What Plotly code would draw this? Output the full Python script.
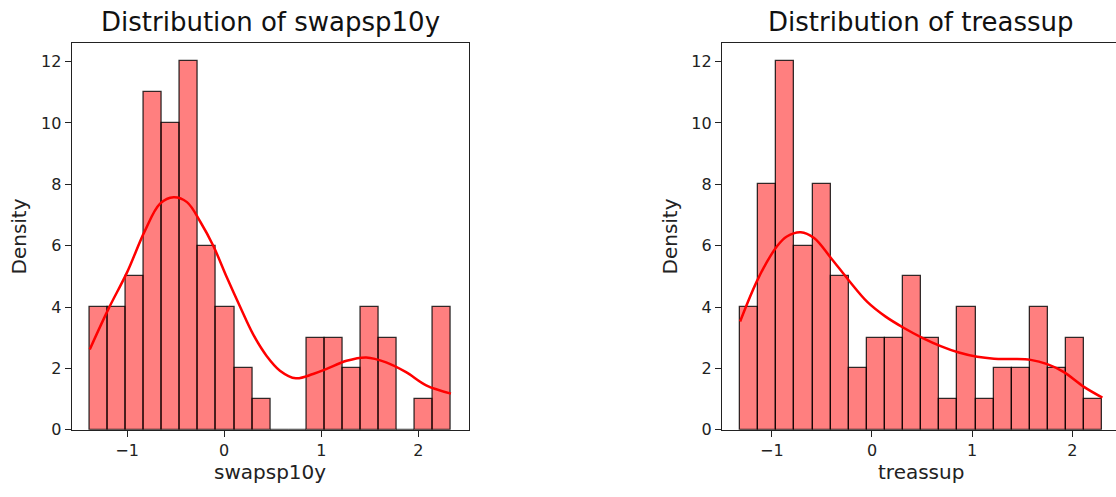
import numpy as np
import plotly.graph_objects as go

# ---- data ----
swap_lo, swap_hi = -1.384, 2.335
swap_counts = [4, 4, 5, 11, 10, 12, 6, 4, 2, 1, 0, 0, 3, 3, 2, 4, 3, 0, 1, 4]
swap_kde_x = [-1.384, -1.19, -1.0, -0.82, -0.66, -0.52, -0.383, -0.246, -0.11, 0.027,
              0.164, 0.30, 0.437, 0.574, 0.738, 0.915, 1.05, 1.26, 1.463, 1.668,
              1.873, 2.08, 2.335]
swap_kde_y = [2.62, 3.95, 5.13, 6.46, 7.37, 7.58, 7.42, 6.78, 5.98, 4.97,
              4.01, 3.10, 2.41, 1.93, 1.68, 1.82, 1.98, 2.25, 2.36, 2.20,
              1.88, 1.45, 1.18]

treas_lo, treas_hi = -1.316, 2.299
treas_counts = [4, 8, 12, 6, 8, 5, 2, 3, 3, 5, 3, 1, 4, 1, 2, 2, 4, 2, 3, 1]
treas_kde_x = [-1.316, -1.13, -0.948, -0.85, -0.711, -0.578, -0.412, -0.229, -0.047,
               0.136, 0.319, 0.502, 0.685, 0.867, 1.05, 1.217, 1.40, 1.583, 1.749,
               1.915, 2.115, 2.299]
treas_kde_y = [3.53, 4.97, 5.98, 6.30, 6.44, 6.25, 5.61, 4.86, 4.17,
               3.69, 3.32, 3.00, 2.73, 2.52, 2.38, 2.32, 2.31, 2.28, 2.14,
               1.88, 1.40, 1.05]

titles = ["Distribution of swapsp10y", "Distribution of treassup"]
xlabels = ["swapsp10y", "treassup"]
ylabel = "Density"
x_ticks = [-1, 0, 1, 2]
y_ticks = [0, 2, 4, 6, 8, 10, 12]

# ---- figure ----
W, H = 1116, 497
FONT = "DejaVu Sans"
FILL = "rgba(255,0,0,0.5)"
EDGE = "rgba(0,0,0,0.8)"

fig = go.Figure()

panels = [
    dict(lo=swap_lo, hi=swap_hi, counts=swap_counts, kx=swap_kde_x, ky=swap_kde_y,
         xa="x", ya="y"),
    dict(lo=treas_lo, hi=treas_hi, counts=treas_counts, kx=treas_kde_x, ky=treas_kde_y,
         xa="x2", ya="y2"),
]

for p in panels:
    n = len(p["counts"])
    edges = np.linspace(p["lo"], p["hi"], n + 1)
    centers = (edges[:-1] + edges[1:]) / 2
    width = edges[1] - edges[0]
    fig.add_trace(go.Bar(
        x=centers, y=p["counts"], width=width,
        marker=dict(color=FILL, line=dict(color=EDGE, width=1.3)),
        xaxis=p["xa"], yaxis=p["ya"], showlegend=False, hoverinfo="skip"))
    fig.add_trace(go.Scatter(
        x=p["kx"], y=p["ky"], mode="lines", line=dict(color="red", width=2.5, shape="spline",
                                                        smoothing=1.0),
        xaxis=p["xa"], yaxis=p["ya"], showlegend=False, hoverinfo="skip"))

ydom = [1 - 438.7 / H, 1 - 44 / H]
dom1 = [71.7 / W, 469 / W]
dom2 = [722 / W, 1.0]

tickfont = dict(family=FONT, size=16, color="#222")
axis_common = dict(showgrid=False, zeroline=False, showline=True, linecolor="#222",
                   linewidth=1.3, ticks="outside", ticklen=6, tickwidth=1.3,
                   tickcolor="#222", tickfont=tickfont)

# range computed from the bin span with matplotlib-like 5% margins
def xr(lo, hi):
    m = (hi - lo) * 0.05
    return [lo - m, hi + m]

r1 = xr(swap_lo, swap_hi)
r2 = xr(treas_lo, treas_hi)
r2[1] = r2[0] + (r2[1] - r2[0]) * (1116 - 722) / (1120.5 - 722)

fig.update_layout(
    width=W, height=H, margin=dict(l=0, r=0, t=0, b=0), autosize=False,
    paper_bgcolor="white", plot_bgcolor="white", bargap=0,
    font=dict(family=FONT, color="#222"),
    xaxis=dict(domain=dom1, range=r1, tickvals=x_ticks, mirror=True, anchor="y", **axis_common),
    yaxis=dict(domain=ydom, range=[0, 12.6], tickvals=y_ticks, mirror=True, anchor="x", **axis_common),
    xaxis2=dict(domain=dom2, range=r2, tickvals=x_ticks, mirror=True, anchor="y2", **axis_common),
    yaxis2=dict(domain=ydom, range=[0, 12.6], tickvals=y_ticks, mirror=False, anchor="x2", **axis_common),
)

ann = []
for dom, t, xl, ylx in [(dom1, titles[0], xlabels[0], 19), (dom2, titles[1], xlabels[1], 670)]:
    cx = (dom[0] + dom[1]) / 2 if dom is dom1 else (722 + 1120.5) / 2 / W
    ann.append(dict(text=t, x=cx, y=1 - 22 / H, xref="paper", yref="paper",
                    xanchor="center", yanchor="middle", showarrow=False,
                    font=dict(family=FONT, size=26, color="#111")))
    ann.append(dict(text=xl, x=cx, y=1 - 482 / H, xref="paper", yref="paper",
                    xanchor="center", yanchor="middle", showarrow=False,
                    font=dict(family=FONT, size=20, color="#222")))
    ann.append(dict(text=ylabel, x=ylx / W, y=(ydom[0] + ydom[1]) / 2, xref="paper", yref="paper",
                    xanchor="center", yanchor="middle", showarrow=False, textangle=-90,
                    font=dict(family=FONT, size=20, color="#222")))
fig.update_layout(annotations=ann)

css = ("var s=document.createElement('style');"
       "s.textContent='html,body{margin:0;padding:0;overflow:hidden;width:1116px;height:497px;}"
       ".plotly-graph-div{position:absolute;left:0;top:0;}';"
       "document.head.appendChild(s);")
fig.write_html("out.html", config={"displayModeBar": False}, post_script=css)
